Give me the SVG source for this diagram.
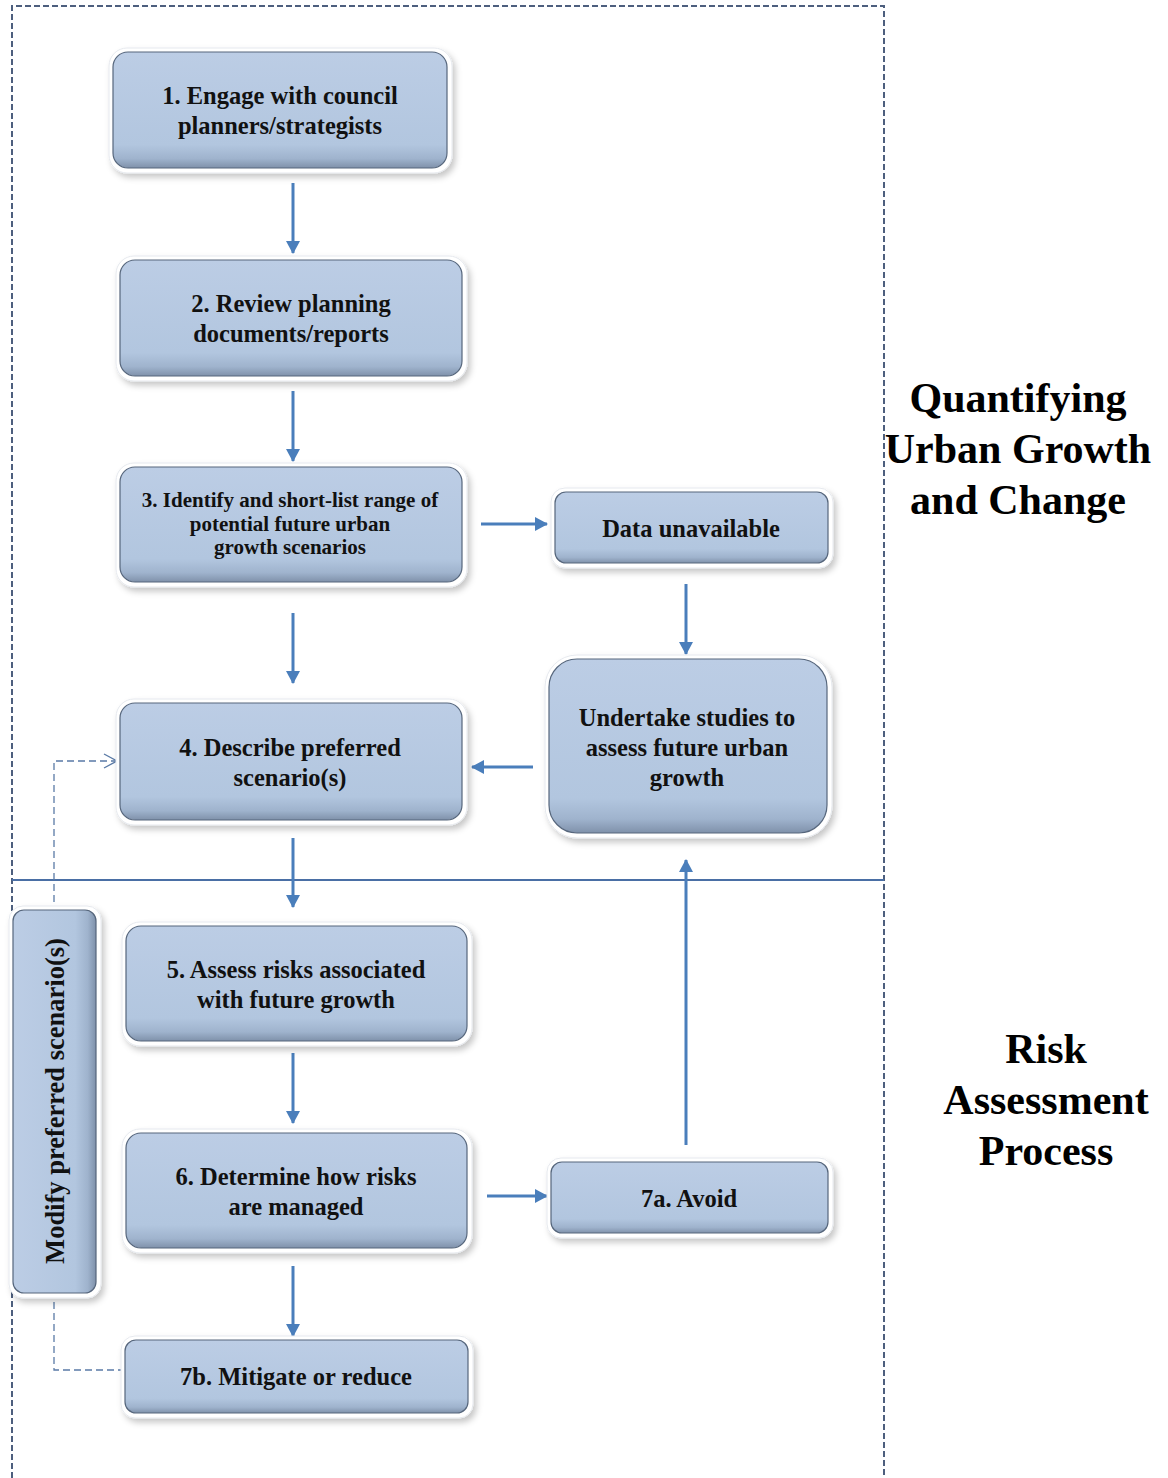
<svg xmlns="http://www.w3.org/2000/svg" width="1168" height="1478" viewBox="0 0 1168 1478">
<defs>
<linearGradient id="gFill" x1="0" y1="0" x2="0" y2="1">
<stop offset="0" stop-color="#bccde5"/>
<stop offset="0.8" stop-color="#b2c6df"/>
<stop offset="0.92" stop-color="#9fb3cd"/>
<stop offset="1" stop-color="#7f91aa"/>
</linearGradient>
<linearGradient id="gFillH" x1="0" y1="0" x2="1" y2="0">
<stop offset="0" stop-color="#bccde5"/>
<stop offset="0.75" stop-color="#b2c6df"/>
<stop offset="0.9" stop-color="#9fb3cd"/>
<stop offset="1" stop-color="#7f91aa"/>
</linearGradient>
<filter id="sh" x="-10%" y="-10%" width="125%" height="130%">
<feDropShadow dx="3" dy="4" stdDeviation="3" flood-color="#000" flood-opacity="0.22"/>
</filter>
<marker id="ah" markerWidth="14" markerHeight="14" refX="12" refY="7" orient="auto" markerUnits="userSpaceOnUse" viewBox="0 0 14 14">
<path d="M0,0 L13,7 L0,14 z" fill="#4a7ebb"/>
</marker>
<marker id="ao" markerWidth="16" markerHeight="16" refX="14" refY="8" orient="auto" markerUnits="userSpaceOnUse" viewBox="0 0 16 16">
<path d="M1,1 L14,8 L1,15" fill="none" stroke="#5a7aa6" stroke-width="1.4"/>
</marker>
</defs>
<style>
.back{fill:#fff;stroke:#e6e9ee;stroke-width:1;filter:url(#sh)}
.box{fill:url(#gFill);stroke:#56667c;stroke-width:1.2}
.t{font-family:"Liberation Serif","Times New Roman",serif;font-weight:bold;fill:#111;text-anchor:middle}
.t24{font-size:24.5px}
.t20{font-size:21px}
.t26{font-size:26.5px}
.big{font-family:"Liberation Serif","Times New Roman",serif;font-weight:bold;fill:#000;text-anchor:middle;font-size:42px}
.ar{stroke:#4a7ebb;stroke-width:3;fill:none;marker-end:url(#ah)}
.dash{stroke:#5a7aa6;stroke-width:1.3;fill:none;stroke-dasharray:7 4}
</style>
<rect width="1168" height="1478" fill="#fff"/>

<g id="frame">
<path d="M12,1478 L12,6 L884,6 L884,1478" fill="none" stroke="#4d5f7e" stroke-width="2" stroke-dasharray="6 3"/>
<line x1="12" y1="880" x2="884" y2="880" stroke="#4a6fa5" stroke-width="2"/>
</g>

<g id="connectors">
<line class="ar" x1="293" y1="183" x2="293" y2="253"/>
<line class="ar" x1="293" y1="391" x2="293" y2="461"/>
<line class="ar" x1="293" y1="613" x2="293" y2="683"/>
<line class="ar" x1="293" y1="838" x2="293" y2="907"/>
<line class="ar" x1="293" y1="1053" x2="293" y2="1123"/>
<line class="ar" x1="293" y1="1266" x2="293" y2="1336"/>
<line class="ar" x1="686" y1="584" x2="686" y2="654"/>
<line class="ar" x1="481" y1="524" x2="547" y2="524"/>
<line class="ar" x1="533" y1="767" x2="472" y2="767"/>
<line class="ar" x1="487" y1="1196" x2="547" y2="1196"/>
<line class="ar" x1="686" y1="1145" x2="686" y2="860"/>
<path class="dash" d="M125,1370 L54,1370 L54,761 L117,761" marker-end="url(#ao)"/>
</g>

<g id="n1">
<rect class="back" x="109" y="48" width="343" height="125" rx="18"/>
<rect class="box" x="113" y="52" width="334" height="116" rx="15"/>
<text class="t t24" x="280" y="104">1. Engage with council</text>
<text class="t t24" x="280" y="134">planners/strategists</text>
</g>
<g id="n2">
<rect class="back" x="116" y="256" width="351" height="125" rx="18"/>
<rect class="box" x="120" y="260" width="342" height="116" rx="15"/>
<text class="t t24" x="291" y="312">2. Review planning</text>
<text class="t t24" x="291" y="342">documents/reports</text>
</g>
<g id="n3">
<rect class="back" x="116" y="463" width="351" height="124" rx="18"/>
<rect class="box" x="120" y="467" width="342" height="115" rx="15"/>
<text class="t t20" x="290" y="507">3. Identify and short-list range of</text>
<text class="t t20" x="290" y="531">potential future urban</text>
<text class="t t20" x="290" y="554">growth scenarios</text>
</g>
<g id="n_data">
<rect class="back" x="551" y="488" width="282" height="80" rx="14"/>
<rect class="box" x="555" y="492" width="273" height="71" rx="11"/>
<text class="t t24" x="691" y="537">Data unavailable</text>
</g>
<g id="n_undertake">
<rect class="back" x="545" y="655" width="287" height="183" rx="32"/>
<rect class="box" x="549" y="659" width="278" height="174" rx="28"/>
<text class="t t24" x="687" y="726">Undertake studies to</text>
<text class="t t24" x="687" y="756">assess future urban</text>
<text class="t t24" x="687" y="786">growth</text>
</g>
<g id="n4">
<rect class="back" x="116" y="699" width="351" height="126" rx="18"/>
<rect class="box" x="120" y="703" width="342" height="117" rx="15"/>
<text class="t t24" x="290" y="756">4. Describe preferred</text>
<text class="t t24" x="290" y="786">scenario(s)</text>
</g>
<g id="n5">
<rect class="back" x="122" y="922" width="350" height="124" rx="18"/>
<rect class="box" x="126" y="926" width="341" height="115" rx="15"/>
<text class="t t24" x="296" y="978">5. Assess risks associated</text>
<text class="t t24" x="296" y="1008">with future growth</text>
</g>
<g id="n6">
<rect class="back" x="122" y="1129" width="350" height="124" rx="18"/>
<rect class="box" x="126" y="1133" width="341" height="115" rx="15"/>
<text class="t t24" x="296" y="1185">6. Determine how risks</text>
<text class="t t24" x="296" y="1215">are managed</text>
</g>
<g id="n7a">
<rect class="back" x="547" y="1158" width="286" height="80" rx="14"/>
<rect class="box" x="551" y="1162" width="277" height="71" rx="11"/>
<text class="t t24" x="689" y="1207">7a. Avoid</text>
</g>
<g id="n7b">
<rect class="back" x="121" y="1336" width="352" height="82" rx="14"/>
<rect class="box" x="125" y="1340" width="343" height="73" rx="11"/>
<text class="t t24" x="296" y="1385">7b. Mitigate or reduce</text>
</g>
<g id="n_modify">
<rect class="back" x="9" y="906" width="92" height="392" rx="14"/>
<rect class="box" x="13" y="910" width="83" height="383" rx="11" style="fill:url(#gFillH)"/>
<text class="t t26" transform="translate(64,1101) rotate(-90)" x="0" y="0">Modify preferred scenario(s)</text>
</g>

<g id="labels">
<text class="big" x="1018" y="412">Quantifying</text>
<text class="big" x="1018" y="463">Urban Growth</text>
<text class="big" x="1018" y="514">and Change</text>
<text class="big" x="1046" y="1063">Risk</text>
<text class="big" x="1046" y="1114">Assessment</text>
<text class="big" x="1046" y="1165">Process</text>
</g>
</svg>
